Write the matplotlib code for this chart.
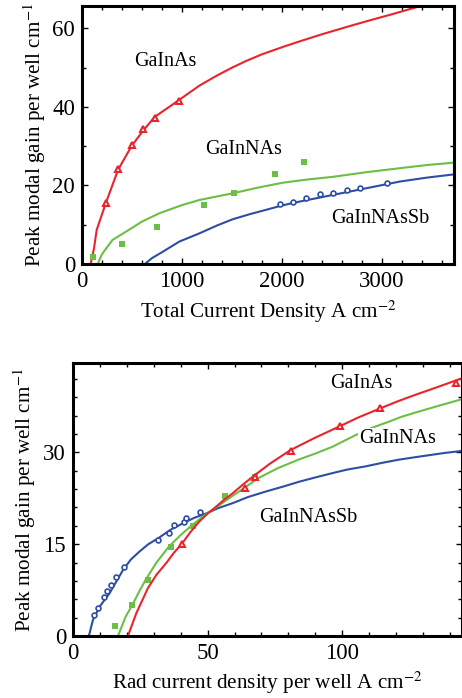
import matplotlib
matplotlib.use("Agg")
import matplotlib.pyplot as plt
from matplotlib.ticker import MultipleLocator

plt.rcParams['font.family'] = ['Liberation Serif', 'DejaVu Serif']
plt.rcParams['mathtext.fontset'] = 'stix'

RED = '#e8242c'
GREEN = '#6cbf45'
BLUE = '#2e4ea3'

# ---- top panel: gain vs total current density ----
red_fit_x = [87, 120, 147, 238, 361, 495, 612, 729, 900, 1000, 1173, 1350, 1508,
             1650, 1800, 2000, 2177, 2400, 2678, 2900, 3100, 3263, 3400]
red_fit_y = [0, 4, 8.7, 15.5, 24, 30, 34, 37.5, 40.5, 42.3, 45.4, 48.0, 50.1,
             51.8, 53.4, 55.2, 56.7, 58.5, 60.6, 62.2, 63.6, 64.8, 65.8]
red_pts_x = [238, 361, 495, 612, 729, 973]
red_pts_y = [15.5, 24.1, 30.3, 34.4, 37.3, 41.4]

green_fit_x = [160, 200, 304, 438, 600, 772, 1000, 1174, 1350, 1508, 1750, 2009,
               2250, 2511, 2850, 3180, 3450, 3714]
green_fit_y = [0.2, 2.5, 6.1, 8.2, 10.8, 12.9, 15.0, 16.3, 17.2, 18.0, 19.4, 20.7,
               21.5, 22.2, 23.4, 24.4, 25.2, 25.8]
green_pts_x = [110, 398, 749, 1220, 1518, 1929, 2220]
green_pts_y = [1.9, 5.1, 9.3, 14.9, 18.0, 23.0, 26.0]

blue_fit_x = [629, 700, 800, 973, 1174, 1350, 1508, 1680, 1842, 2000, 2177, 2511,
              2845, 3180, 3450, 3714]
blue_fit_y = [0, 1.5, 3.0, 5.7, 7.8, 9.8, 11.4, 12.7, 13.8, 14.9, 15.9, 17.6,
              19.3, 21.0, 22.0, 22.8]
blue_pts_x = [1976, 2110, 2244, 2377, 2511, 2645, 2779, 3046]
blue_pts_y = [15.2, 15.9, 16.8, 17.8, 18.2, 18.8, 19.3, 20.5]

# ---- bottom panel: gain vs radiative current density per well ----
b_red_fit_x = [20.4, 23.5, 27.8, 31.0, 34.6, 37.5, 40.5, 43.5, 46.9, 50.0, 53.1,
               56.0, 59.3, 63.0, 66.7, 73.0, 80.9, 90.0, 98.8, 106.0, 114.2,
               121.0, 127.2, 135.0, 142.6, 145.0]
b_red_fit_y = [0, 3.7, 7.8, 10.0, 11.9, 13.6, 15.1, 16.9, 18.7, 20.0, 21.1,
               22.2, 23.3, 24.7, 26.0, 28.1, 30.4, 32.4, 34.2, 35.7, 37.2,
               38.4, 39.4, 40.6, 41.8, 42.2]
b_red_pts_x = [40.5, 64.0, 67.7, 81.1, 99.0, 114.2, 142.3]
b_red_pts_y = [15.1, 24.1, 26.0, 30.3, 34.3, 37.2, 41.4]

b_green_fit_x = [16.7, 19.6, 22.1, 24.5, 27.0, 31.0, 35.6, 40.0, 44.2, 48.5, 52.8,
                 59.0, 64.0, 68.9, 76.0, 83.7, 90.0, 96.3, 104.9, 111.0, 117.3,
                 122.0, 127.2, 135.0, 143.8, 145.0]
b_green_fit_y = [0, 3.2, 5.1, 7.2, 9.2, 12.0, 14.6, 16.5, 18.1, 19.6, 20.9,
                 22.8, 24.3, 25.8, 27.4, 28.8, 29.8, 30.9, 32.8, 34.0, 35.0,
                 35.8, 36.5, 37.5, 38.6, 38.7]
b_green_pts_x = [15.7, 21.9, 27.7, 36.3, 44.6, 56.4, 67.6]
b_green_pts_y = [1.6, 5.0, 9.2, 14.6, 17.9, 22.9, 26.0]

b_blue_fit_x = [5.9, 7.4, 9.9, 13.6, 18.6, 21.5, 24.7, 28.0, 32.1, 36.0, 40.8,
                45.0, 49.4, 54.0, 59.3, 65.0, 71.6, 78.0, 84.0, 90.0, 96.3,
                102.0, 108.6, 115.0, 121.0, 127.0, 133.3, 138.0, 143.8, 145.0]
b_blue_fit_y = [0, 2.6, 4.8, 7.0, 10.8, 12.5, 13.8, 15.0, 16.1, 17.3, 18.4,
                19.3, 20.0, 20.9, 21.7, 22.7, 23.6, 24.4, 25.2, 25.9, 26.6,
                27.2, 27.7, 28.3, 28.8, 29.2, 29.6, 29.9, 30.2, 30.3]
b_blue_pts_x = [7.7, 9.4, 11.4, 12.7, 14.1, 16.1, 19.0, 31.6, 35.6, 37.7, 41.1, 42.0, 47.3]
b_blue_pts_y = [3.5, 4.6, 6.4, 7.4, 8.4, 9.7, 11.3, 15.7, 16.8, 18.2, 18.7, 19.3, 20.3]

fig = plt.figure(figsize=(4.62, 6.98), dpi=100)
ax1 = fig.add_axes([0.1775, 0.6218, 0.8052, 0.3696])
ax2 = fig.add_axes([0.158, 0.0888, 0.842, 0.3912])

fs = 14.5      # curve labels
fs_lab = 15.2  # axis labels
fs_tick = 16.5


def style(ax):
    for s in ax.spines.values():
        s.set_linewidth(2.2)
    ax.tick_params(which='both', direction='in', top=True, right=True,
                   labelsize=fs_tick, width=1.0, pad=5)
    ax.tick_params(which='major', length=4)
    ax.tick_params(which='minor', length=3)


# top
ax1.plot(red_fit_x, red_fit_y, color=RED, lw=1.5)
ax1.plot(red_pts_x, red_pts_y, '^', color=RED, mfc='white', mec=RED, ms=5, mew=1.5)
ax1.plot(green_fit_x, green_fit_y, color=GREEN, lw=1.5)
ax1.plot(green_pts_x, green_pts_y, 's', color=GREEN, ms=4, mew=0)
ax1.plot(blue_fit_x, blue_fit_y, color=BLUE, lw=1.5)
ax1.plot(blue_pts_x, blue_pts_y, 'o', color=BLUE, mfc='white', mec=BLUE, ms=3.5, mew=1.2)
ax1.set_xlim(0, 3720)
ax1.set_ylim(0, 65.7)
ax1.xaxis.set_major_locator(MultipleLocator(1000))
ax1.xaxis.set_minor_locator(MultipleLocator(200))
ax1.yaxis.set_major_locator(MultipleLocator(20))
ax1.yaxis.set_minor_locator(MultipleLocator(10))
style(ax1)
ax1.text(838, 51.5, 'GaInAs', fontsize=fs, ha='center', va='center')
ax1.text(1618, 29.2, 'GaInNAs', fontsize=fs, ha='center', va='center')
ax1.text(2979, 11.5, 'GaInNAsSb', fontsize=fs, ha='center', va='center')
ax1.set_xlabel('Total Current Density A cm$^{-2}$', fontsize=fs_lab, labelpad=5)
ax1.set_ylabel('Peak modal gain per well cm$^{-1}$', fontsize=fs_lab, labelpad=3)

# bottom
ax2.plot(b_blue_fit_x, b_blue_fit_y, color=BLUE, lw=1.5)
ax2.plot(b_blue_pts_x, b_blue_pts_y, 'o', color=BLUE, mfc='white', mec=BLUE, ms=3.5, mew=1.2)
ax2.plot(b_green_fit_x, b_green_fit_y, color=GREEN, lw=1.5)
ax2.plot(b_green_pts_x, b_green_pts_y, 's', color=GREEN, ms=4, mew=0)
ax2.plot(b_red_fit_x, b_red_fit_y, color=RED, lw=1.5)
ax2.plot(b_red_pts_x, b_red_pts_y, '^', color=RED, mfc='white', mec=RED, ms=5, mew=1.5)
ax2.set_xlim(0, 144.5)
ax2.set_ylim(0, 44.6)
ax2.xaxis.set_major_locator(MultipleLocator(50))
ax2.xaxis.set_minor_locator(MultipleLocator(10))
ax2.yaxis.set_major_locator(MultipleLocator(15))
ax2.yaxis.set_minor_locator(MultipleLocator(3))
style(ax2)
ax2.text(107.2, 41.3, 'GaInAs', fontsize=fs, ha='center', va='center')
ax2.text(120.4, 32.3, 'GaInNAs', fontsize=fs, ha='center', va='center',
         bbox=dict(facecolor='white', edgecolor='none', pad=0.5))
ax2.text(87.4, 19.4, 'GaInNAsSb', fontsize=fs, ha='center', va='center')
ax2.set_xlabel('Rad current density per well A cm$^{-2}$', fontsize=fs_lab, labelpad=4)
ax2.set_ylabel('Peak modal gain per well cm$^{-1}$', fontsize=fs_lab, labelpad=4)

fig.savefig('out.png', dpi=100)
